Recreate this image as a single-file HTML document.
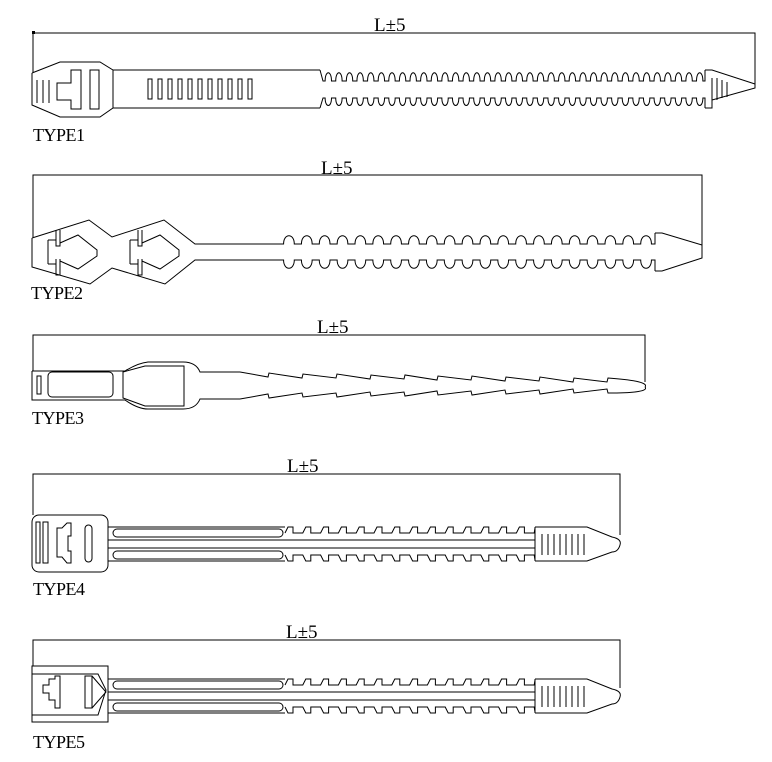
<!DOCTYPE html>
<html><head><meta charset="utf-8"><style>
html,body{margin:0;padding:0;background:#fff;width:772px;height:762px;overflow:hidden}
svg{display:block}
text{font-family:"Liberation Serif",serif;fill:#000}
</style></head><body>
<svg id="s" width="772" height="762" viewBox="0 0 772 762" xmlns="http://www.w3.org/2000/svg">
<g fill="none" stroke="#000" stroke-width="1">
<!-- TYPE1 -->
<path d="M33,72V33H755V88"/>
<rect x="32" y="31" width="3" height="3" fill="#000" stroke="none"/>
<path d="M32,73L60,62H100L113,70H320 M113,70V108 M32,73V105L60,117H100L113,108H320"/>
<path d="M37,80V103M43,80V103M49,80V103"/>
<path d="M57,83H71V70H81V109H71V100H57Z"/>
<rect x="90" y="70" width="9" height="39"/>
<g id="slots1"></g>
<path id="w1" d=""/>
<path d="M705,70H712L755,84V88L712,100V108H705"/>
<path d="M712,78V100M717,78V100M722,80V98M727,82V97"/>
<!-- TYPE2 -->
<path d="M33,237V175H702V250"/>
<path d="M32,238L89,220L112,237L164,220L195,244H280 M32,238V267L90,284L112,268L165,284L195,260H280"/>
<g id="heads2"></g>
<path id="w2" d=""/>
<path d="M655,233H662L702,245V258L662,271H655"/>
<!-- TYPE3 -->
<path d="M33,371V335H645V382"/>
<path d="M32,371H125Q138,363 148,362H183Q196,362 200,372H240 M32,371V400H125Q138,409 148,409H183Q196,409 200,399H240"/>
<rect x="37" y="376" width="4" height="18"/>
<rect x="48" y="372" width="65" height="25" rx="4"/>
<path d="M123,372L145,366H184V406H145L123,398Z"/>
<path d="M240,372 L268,377 L269,373 L302,378 L303,374 L336,378 L337,374 L370,379 L371,375 L404,379 L405,375 L437,380 L438,376 L471,380 L472,376 L505,381 L506,377 L539,381 L540,377 L573,382 L574,378 L607,382 L608,378 Q650,381 645,387"/>
<path d="M240,399 L268,394 L269,398 L302,393 L303,397 L336,393 L337,397 L370,392 L371,396 L404,392 L405,396 L437,391 L438,395 L471,391 L472,395 L505,390 L506,394 L539,390 L540,394 L573,389 L574,393 L607,389 L608,393 Q650,393 645,387"/>
<!-- TYPE4 -->
<path d="M33,515V474H620V535"/>
<rect x="32" y="515" width="76" height="57" rx="7"/>
<rect x="36" y="522" width="4" height="41"/><rect x="43" y="522" width="5" height="41"/>
<path d="M57,528H62L67,523H71V536H68V551H71V563H67L62,557H57Z"/>
<rect x="85" y="525" width="7" height="37" rx="3.5"/>
<g id="strap4"></g>
<!-- TYPE5 -->
<path d="M33,666V640H620V688"/>
<rect x="32" y="666" width="76" height="56"/>
<path d="M32,674H98L106,690L98,715H32"/>
<path d="M43,685H49V679H55V676H60V708H55V700H49V693H43Z"/>
<path d="M85,676H92V708H85Z M92,676L106,692L92,708"/>
<g id="strap5"></g>
</g>
<text x="374" y="31" font-size="19">L±5</text>
<text x="321" y="174" font-size="19">L±5</text>
<text x="317" y="333" font-size="19">L±5</text>
<text x="287" y="472" font-size="19">L±5</text>
<text x="286" y="638" font-size="19">L±5</text>
<text x="33" y="141" font-size="18" textLength="52">TYPE1</text>
<text x="31" y="299" font-size="18" textLength="52">TYPE2</text>
<text x="32" y="424" font-size="18" textLength="52">TYPE3</text>
<text x="33" y="595" font-size="18" textLength="52">TYPE4</text>
<text x="33" y="748" font-size="18" textLength="52">TYPE5</text>
</svg>
<script>
function waveN(x0,x1,base,tip,n){var p=(x1-x0)/n;var s="";for(var i=0;i<n;i++){var a=x0+i*p+0.2*p,b=x0+i*p+0.8*p;s+=" L"+a+","+base+" C"+a+","+tip+" "+b+","+tip+" "+b+","+base;}return s+" L"+x1+","+base;}
document.getElementById("w1").setAttribute("d","M320,70 L323,81"+waveN(323,705,81,70,36)+" L705,70 M320,108 L323,98"+waveN(323,705,98,108,36)+" L705,108");
var sl="";for(var i=0;i<11;i++){sl+='<rect x="'+(148+i*10)+'" y="79" width="4" height="20"/>';}
document.getElementById("slots1").innerHTML=sl;
document.getElementById("w2").setAttribute("d","M280,244"+waveN(280,655,244,233,21)+" L655,233 M280,260"+waveN(280,655,260,271,21)+" L655,271");
var h="";[0,82].forEach(function(o){h+='<path transform="translate('+o+',0)" d="M48,240V264 M48,240H56 M48,264H56 M56,230V246H60V230 M56,259V275H60V259 M60,243L78,235L97,250V256L78,269L60,261"/>';});
document.getElementById("heads2").innerHTML=h;
function strap(yT){
 var s='<path d="M108,'+yT+'H285 M108,'+(yT+13)+'H535 M108,'+(yT+21)+'H535 M108,'+(yT+34)+'H285"/>';
 s+='<rect x="113" y="'+(yT+2)+'" width="170" height="8" rx="4"/><rect x="113" y="'+(yT+24)+'" width="170" height="8" rx="4"/>';
 var t="M285,"+(yT+6),b="M285,"+(yT+28),x=285,p=17.8;
 for(var i=0;i<14;i++){t+=" L"+(x+3)+","+(yT)+" L"+(x+8)+","+yT+" L"+(x+8)+","+(yT+6)+" L"+(x+p)+","+(yT+6);b+=" L"+(x+3)+","+(yT+34)+" L"+(x+8)+","+(yT+34)+" L"+(x+8)+","+(yT+28)+" L"+(x+p)+","+(yT+28);x+=p;if(x>530)break;}
 t+=" L535,"+(yT+1);b+=" L535,"+(yT+33);
 s+='<path d="'+t+" "+b+'"/>';
 s+='<path d="M535,'+yT+'V'+(yT+34)+' M535,'+yT+'H587L612,'+(yT+10)+'Q622,'+(yT+12)+' 620,'+(yT+18)+'Q618,'+(yT+25)+' 612,'+(yT+25)+'L587,'+(yT+34)+'H535"/>';
 var hl="";for(var j=0;j<8;j++){var xx=542+j*6;hl+="M"+xx+","+(yT+7)+"V"+(yT+28)+" ";}
 s+='<path d="'+hl+'"/>';
 return s;}
document.getElementById("strap4").innerHTML=strap(527);
document.getElementById("strap5").innerHTML=strap(679);
</script>
</body></html>
